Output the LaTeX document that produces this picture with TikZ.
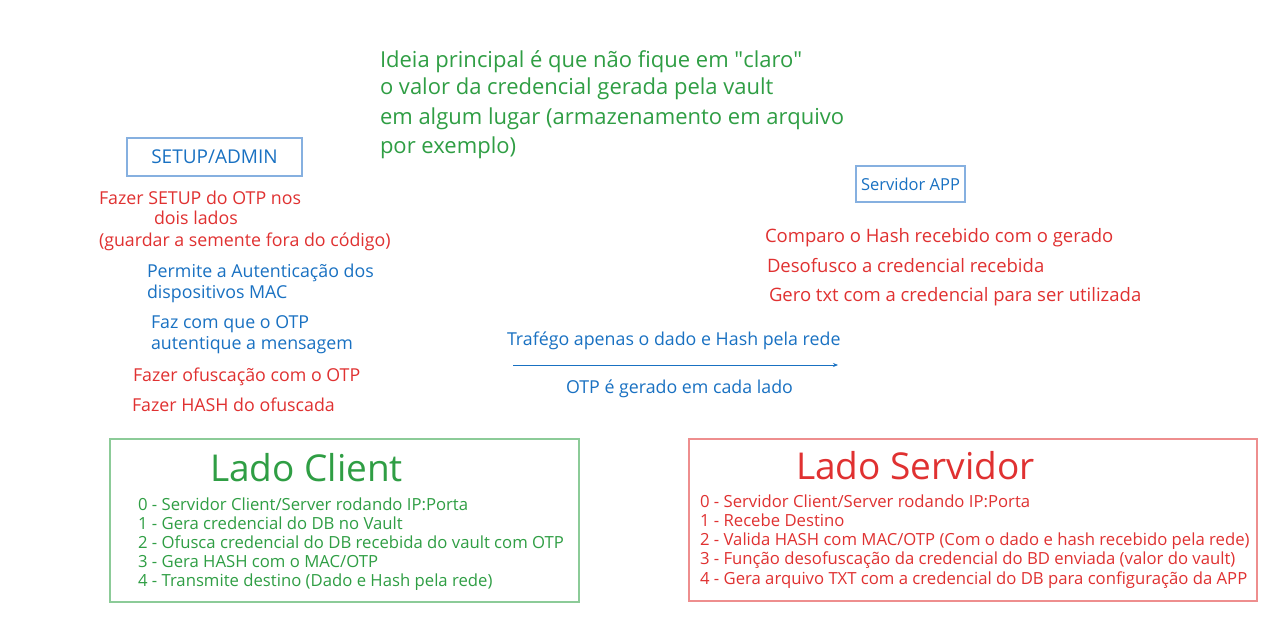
\documentclass[tikz,border=0pt]{standalone}
\usepackage{fontspec}
\setmainfont{Open Sans}
\usetikzlibrary{arrows.meta}
\definecolor{tgreen}{HTML}{2F9E44}
\definecolor{tred}{HTML}{E03131}
\definecolor{tblue}{HTML}{1971C2}
\definecolor{bgreen}{HTML}{8CCB98}
\definecolor{bred}{HTML}{EE8E8E}
\definecolor{bblue}{HTML}{86B0E0}
\tikzset{
  txt/.style={inner sep=0pt, outer sep=0pt, anchor=base west},
  gtxt/.style={txt, text=tgreen},
  rtxt/.style={txt, text=tred},
  btxt/.style={txt, text=tblue},
  big/.style={font=\fontsize{22}{25}\selectfont},
  mid/.style={font=\fontsize{17.8}{20}\selectfont},
  midr/.style={font=\fontsize{18.5}{20}\selectfont},
  csmall/.style={font=\fontsize{16.7}{18}\selectfont},
  ssmall/.style={font=\fontsize{16.7}{18}\selectfont},
  title/.style={font=\fontsize{37}{40}\selectfont},
  labelbox/.style={draw=bblue, line width=1.2pt, text=tblue, inner sep=0pt},
  sidebox/.style={line width=1.2pt, inner sep=0pt},
  flow/.style={draw=tblue, line width=0.9pt, -{Stealth[length=5pt,width=4pt]}}
}
\begin{document}
\begin{tikzpicture}[x=1pt,y=-1pt]
\useasboundingbox (0,0) rectangle (1280,626);
\fill[white] (0,0) rectangle (1280,626);

% main idea text
\node[gtxt, big] (idea1) at (380,67) {Ideia principal é que não fique em \textquotedbl claro\textquotedbl};
\node[gtxt, big] (idea2) at (380,95) {o valor da credencial gerada pela vault};
\node[gtxt, big] (idea3) at (380,124) {em algum lugar (armazenamento em arquivo};
\node[gtxt, big] (idea4) at (380,153) {por exemplo)};

% setup/admin
\node[labelbox, minimum width=175pt, minimum height=38pt, font=\fontsize{19}{20}\selectfont] (setup) at (214.5,157) {SETUP/ADMIN};
\node[rtxt, mid] (s1) at (99,204) {Fazer SETUP do OTP nos};
\node[rtxt, mid] (s2) at (154,224) {dois lados};
\node[rtxt, mid] (s3) at (99,246) {(guardar a semente fora do código)};
\node[btxt, mid] (p1) at (147,277) {Permite a Autenticação dos};
\node[btxt, mid] (p2) at (147,298) {dispositivos MAC};
\node[btxt, mid] (f1) at (151,328) {Faz com que o OTP};
\node[btxt, mid] (f2) at (151,349) {autentique a mensagem};
\node[rtxt, mid] (o1) at (133,381) {Fazer ofuscação com o OTP};
\node[rtxt, mid] (h1) at (132,411) {Fazer HASH do ofuscada};

% servidor app
\node[labelbox, minimum width=109pt, minimum height=36pt, font=\fontsize{16.5}{18}\selectfont] (app) at (910.5,184) {Servidor APP};
\node[rtxt, midr] (r1) at (765,242) {Comparo o Hash recebido com o gerado};
\node[rtxt, midr] (r2) at (767,272) {Desofusco a credencial recebida};
\node[rtxt, midr] (r3) at (769,301) {Gero txt com a credencial para ser utilizada};

% arrow
\coordinate (a0) at (513,365);
\coordinate (a1) at (838,365);
\draw[flow] (a0) -- (a1);
\node[btxt, mid] (traf) at (507,345) {Trafégo apenas o dado e Hash pela rede};
\node[btxt, mid] (gen) at (566,393) {OTP é gerado em cada lado};

% client box
\node[sidebox, draw=bgreen, minimum width=469pt, minimum height=163pt] (client) at (344.5,520.5) {};
\node[gtxt, title] (ct) at (210,481) {Lado Client};
\node[gtxt, csmall] (c0) at (138,510) {0 - Servidor Client/Server rodando IP:Porta};
\node[gtxt, csmall] (c1) at (138,529) {1 - Gera credencial do DB no Vault};
\node[gtxt, csmall] (c2) at (138,548) {2 - Ofusca credencial do DB recebida do vault com OTP};
\node[gtxt, csmall] (c3) at (138,567) {3 - Gera HASH com o MAC/OTP};
\node[gtxt, csmall] (c4) at (138,586) {4 - Transmite destino (Dado e Hash pela rede)};

% server box
\node[sidebox, draw=bred, minimum width=568pt, minimum height=162pt] (server) at (973,520) {};
\node[rtxt, title] (st) at (796,479) {Lado Servidor};
\node[rtxt, ssmall] (v0) at (700,507) {0 - Servidor Client/Server rodando IP:Porta};
\node[rtxt, ssmall] (v1) at (700,526) {1 - Recebe Destino};
\node[rtxt, ssmall] (v2) at (700,545) {2 - Valida HASH com MAC/OTP (Com o dado e hash recebido pela rede)};
\node[rtxt, ssmall] (v3) at (700,564) {3 - Função desofuscação da credencial do BD enviada (valor do vault)};
\node[rtxt, ssmall] (v4) at (700,584) {4 - Gera arquivo TXT com a credencial do DB para configuração da APP};
\end{tikzpicture}
\end{document}
